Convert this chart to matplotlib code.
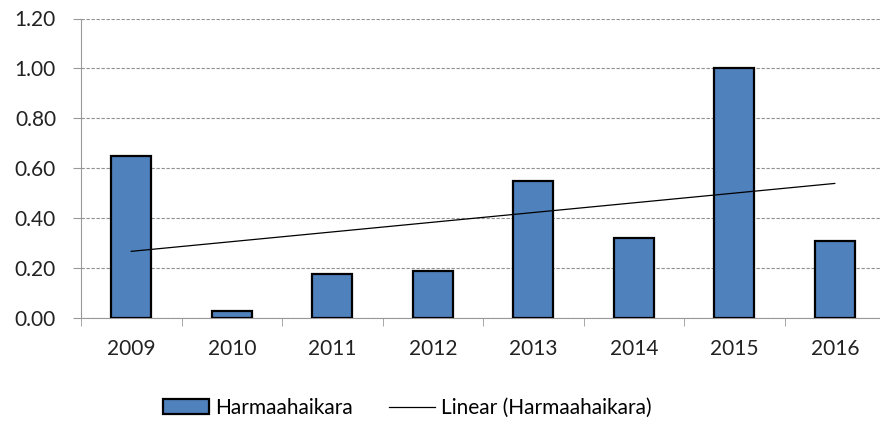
import numpy as np
import matplotlib
matplotlib.use("Agg")
import matplotlib.pyplot as plt

# data
years = ["2009", "2010", "2011", "2012", "2013", "2014", "2015", "2016"]
harmaahaikara = [0.65, 0.03, 0.175, 0.19, 0.55, 0.32, 1.00, 0.31]
y_ticks = [0.0, 0.2, 0.4, 0.6, 0.8, 1.0, 1.2]

plt.rcParams['font.family'] = ['Lato', 'DejaVu Sans']

fig = plt.figure(figsize=(8.8, 4.26), dpi=100)
ax = fig.add_axes([81 / 880, 1 - 318 / 426, 804 / 880, 299.5 / 426])

x = np.arange(len(years))
bars = ax.bar(x, harmaahaikara, width=0.4, color='#4F81BD', edgecolor='black',
              linewidth=1.6, label='Harmaahaikara', zorder=3)

# linear trend like Excel's trendline
k, b = np.polyfit(x, harmaahaikara, 1)
trend, = ax.plot(x, k * x + b, color='black', linewidth=0.9,
                 label='Linear (Harmaahaikara)', zorder=4)

ax.set_xlim(-0.5, len(years) - 0.5)
ax.set_ylim(0, 1.2)
ax.set_yticks(y_ticks)
ax.set_yticklabels([f"{v:.2f}" for v in y_ticks])
ax.set_xticks(x)
ax.set_xticklabels(years)
ax.set_xticks(np.arange(-0.5, len(years)), minor=True)
ax.tick_params(axis='x', which='major', length=0, pad=15, labelsize=15, labelcolor='#222222')
ax.tick_params(axis='x', which='minor', length=6, color='#999999', direction='out')
ax.tick_params(axis='y', length=6, color='#999999', pad=12, labelsize=15, labelcolor='#222222')

ax.yaxis.grid(True, linestyle=(0, (3, 1.5)), color='#909090', linewidth=0.8, zorder=0)
ax.spines['top'].set_visible(False)
ax.spines['right'].set_visible(False)
ax.spines['left'].set_color('#999999')
ax.spines['bottom'].set_color('#999999')

fig.legend(handles=[bars, trend], loc='center', bbox_to_anchor=(0.463, 1 - 408 / 426),
           ncol=2, frameon=False, fontsize=15, handlelength=2.2, handleheight=0.7,
           columnspacing=1.7, handletextpad=0.3)

fig.savefig("out.png", dpi=100)
